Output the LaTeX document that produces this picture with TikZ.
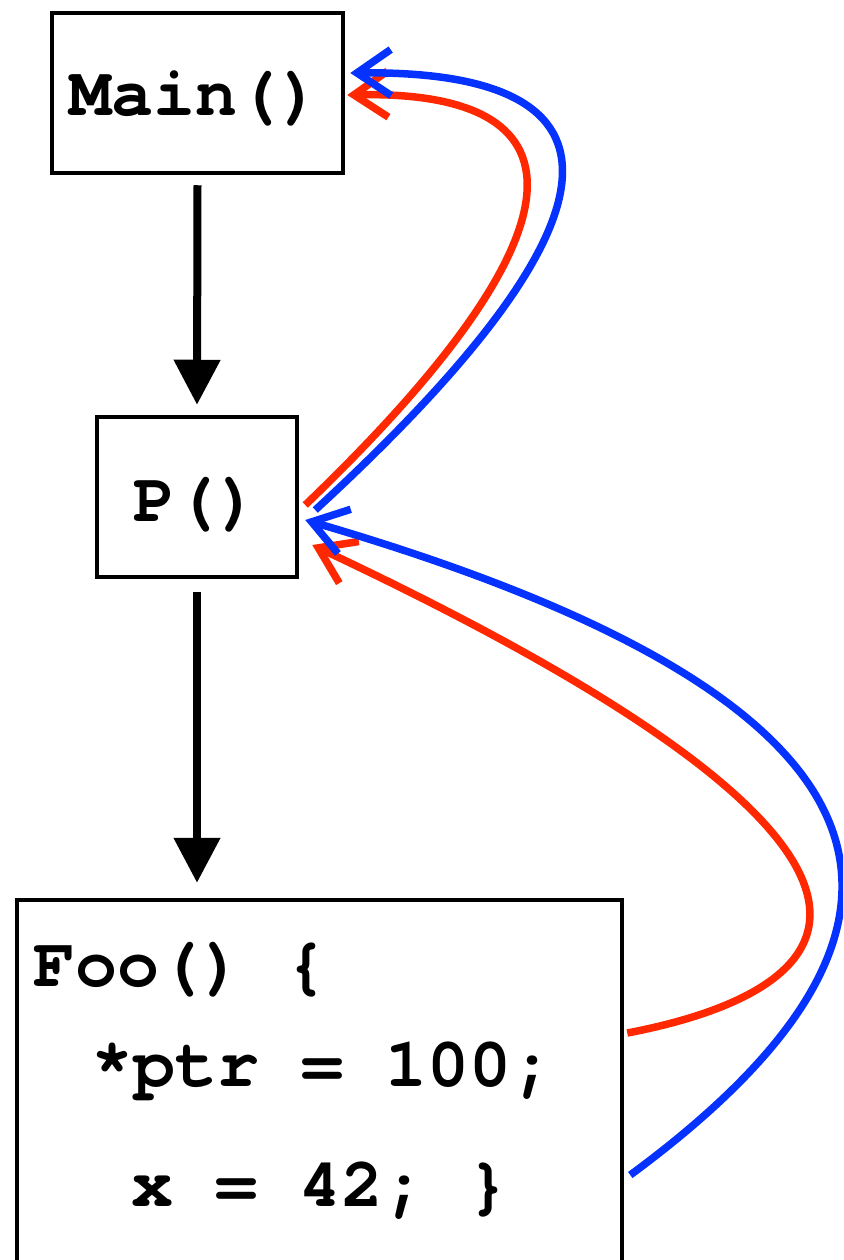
\documentclass[tikz,border=0pt]{standalone}
\usepackage{fontspec}
\setmonofont{texgyrecursor-regular.otf}[BoldFont=texgyrecursor-bold.otf]
\usetikzlibrary{arrows.meta,calc}
\definecolor{cred}{RGB}{255,40,0}
\definecolor{cblue}{RGB}{5,50,255}
\begin{document}
\begin{tikzpicture}[x=1pt,y=-1pt,
  box/.style={draw=black,line width=4.5pt,rectangle,inner sep=0pt},
  code/.style={inner sep=0pt,anchor=base west,font=\ttfamily\bfseries\fontsize{70}{74}\selectfont},
  codec/.style={inner sep=0pt,anchor=base,font=\ttfamily\bfseries\fontsize{70}{74}\selectfont},
  flow/.style={line width=8pt,-{Triangle[length=45pt,width=45pt]}},
  ret/.style={line width=7.5pt,-{Straight Barb[length=34pt,width=46pt]}}]
\useasboundingbox (0,0) rectangle (843,1260);
\clip (0,0) rectangle (843,1260);
\node[box,minimum width=291pt,minimum height=160pt] (main) at (197.5,93) {};
\node[codec] (maintxt) at (195,116) {Main()};
\node[box,minimum width=200pt,minimum height=160pt] (p) at (197,497) {};
\node[codec] (ptxt) at (196,521) {P()};
\node[box,minimum width=605pt,minimum height=400pt] (foo) at (319.5,1100) {};
\node[code] (l1) at (33,986) {Foo() \{};
\node[code] (l2) at (91,1086) {*ptr = 100;};
\node[code] (l3) at (131,1206) {x = 42; \}};
\coordinate (ptop) at ($(p.north)+(0,-10)$);
\coordinate (foostop) at ($(p.south |- foo.north)+(0,-15)$);
\draw[flow] ($(main.south)+(0,10)$) -- (ptop);
\draw[flow] ($(p.south)+(0,13)$) -- (foostop);
\draw[ret,cred] ($(p.east)+(6,8)$) .. controls ($(p.east)+(303,-277)$) and ($(main.east)+(237,-3)$) .. ($(main.east)+(2,2)$);
\draw[ret,cblue] ($(p.east)+(16,13)$) .. controls ($(p.east)+(353,-297)$) and ($(main.east)+(277,-23)$) .. ($(main.east)+(5,-20)$);
\draw[ret,cred] ($(foo.east)+(3,-67)$) .. controls ($(foo.east)+(228,-110)$) and ($(p.east)+(683,363)$) .. ($(p.east)+(13,48)$);
\draw[ret,cblue] ($(foo.east)+(6,75)$) .. controls ($(foo.east)+(298,-140)$) and ($(p.east)+(693,223)$) .. ($(p.east)+(6,23)$);
\end{tikzpicture}
\end{document}
